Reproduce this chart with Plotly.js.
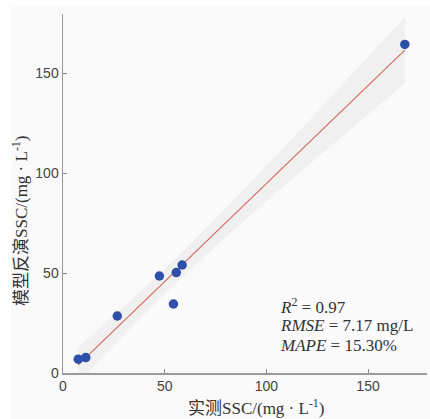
<!DOCTYPE html>
<html><head><meta charset="utf-8">
<script src="https://cdn.plot.ly/plotly-3.0.1.min.js"></script>
<style>html,body{margin:0;padding:0;background:#fff;}#chart{width:430px;height:419px;}</style>
</head><body><div id="chart"></div>
<script>
const measuredSSC = [7.5, 11.2, 26.7, 47.4, 54.3, 55.7, 58.6, 168.1];
const modelSSC    = [6.9, 7.7, 28.5, 48.5, 34.5, 50.2, 54.0, 164.3];
const xTicks = [0, 50, 100, 150];
const yTicks = [0, 50, 100, 150];
const statLines = ['<i>R</i><sup>2</sup> = 0.97', '<i>RMSE</i> = 7.17 mg/L', '<i>MAPE</i> = 15.30%'];

// Least-squares fit and 95% confidence band of the mean, derived from the data
const n = measuredSSC.length;
const mx = measuredSSC.reduce((a,b)=>a+b,0)/n;
const my = modelSSC.reduce((a,b)=>a+b,0)/n;
let sxx=0, sxy=0;
for (let i=0;i<n;i++){ sxx+=(measuredSSC[i]-mx)**2; sxy+=(measuredSSC[i]-mx)*(modelSSC[i]-my); }
const slope = sxy/sxx, icpt = my - slope*mx;
let sse=0; for (let i=0;i<n;i++){ sse += (modelSSC[i]-(icpt+slope*measuredSSC[i]))**2; }
const s = Math.sqrt(sse/(n-2)), tcrit = 2.447;
const xmin = Math.min(...measuredSSC), xmax = Math.max(...measuredSSC);
const fx=[], fy=[], up=[], lo=[];
for (let k=0;k<=40;k++){
  const x = xmin + (xmax-xmin)*k/40;
  const y = icpt + slope*x;
  const h = tcrit*s*Math.sqrt(1/n + (x-mx)**2/sxx);
  fx.push(x); fy.push(y); up.push(y+h); lo.push(y-h);
}

const serif = 'Liberation Serif, Times New Roman, Noto Sans CJK SC, serif';
const sans = 'Liberation Sans, Arial, sans-serif';
const traces = [
  {x: fx.concat(fx.slice().reverse()), y: up.concat(lo.slice().reverse()), type:'scatter', mode:'lines',
   fill:'toself', fillcolor:'#f0f0f0', line:{width:0}, hoverinfo:'skip', showlegend:false},
  {x: fx, y: fy, type:'scatter', mode:'lines', line:{color:'#d66a5e', width:1.2}, showlegend:false},
  {x: measuredSSC, y: modelSSC, type:'scatter', mode:'markers',
   marker:{color:'#2d4fa8', size:9.5}, showlegend:false}
];

const statY = [306, 325.5, 345]; // pixel centres of the three statistic lines
const annotations = [
  {xref:'paper', yref:'paper', x:(256-63)/364, y:0, yshift:-34, xanchor:'center', yanchor:'middle',
   text:'实测SSC/(mg · L<sup>-1</sup>)', showarrow:false, font:{family:serif, size:17, color:'#333'}},
  {xref:'paper', yref:'paper', x:0, xshift:-43, y:(373-221)/359, xanchor:'center', yanchor:'middle', textangle:-90,
   text:'模型反演SSC/(mg · L<sup>-1</sup>)', showarrow:false, font:{family:serif, size:17, color:'#333'}}
];
statLines.forEach((t,i)=>annotations.push({xref:'paper', yref:'paper', x:(278-63)/364, y:(373-statY[i])/359,
  xanchor:'left', yanchor:'middle', align:'left', text:t, showarrow:false,
  font:{family:serif, size:17, color:'#333'}}));

const layout = {
  width:430, height:419,
  margin:{l:63, r:3, t:14, b:46},
  paper_bgcolor:'#ffffff', plot_bgcolor:'#fafafa',
  showlegend:false,
  xaxis:{range:[0,179], tickvals:xTicks, ticktext:xTicks.map(String), ticks:'inside', ticklen:4,
    tickcolor:'#888', showline:true, linecolor:'#999', linewidth:1.5, showgrid:false, zeroline:false,
    tickfont:{family:sans, size:14, color:'#444'}},
  yaxis:{range:[0,179.5], tickvals:yTicks, ticktext:yTicks.map(String), ticks:'inside', ticklen:4,
    tickcolor:'#888', showline:true, linecolor:'#999', linewidth:1.5, showgrid:false, zeroline:false,
    tickfont:{family:sans, size:14, color:'#444'}},
  shapes:[{type:'rect', xref:'paper', yref:'paper', layer:'below',
    x0:-52/364, x1:1+3/364, y0:-46/359, y1:1+8/359, fillcolor:'#fafafa', line:{width:0}}],
  annotations: annotations
};
Plotly.newPlot('chart', traces, layout, {displayModeBar:false, staticPlot:true});
</script></body></html>
